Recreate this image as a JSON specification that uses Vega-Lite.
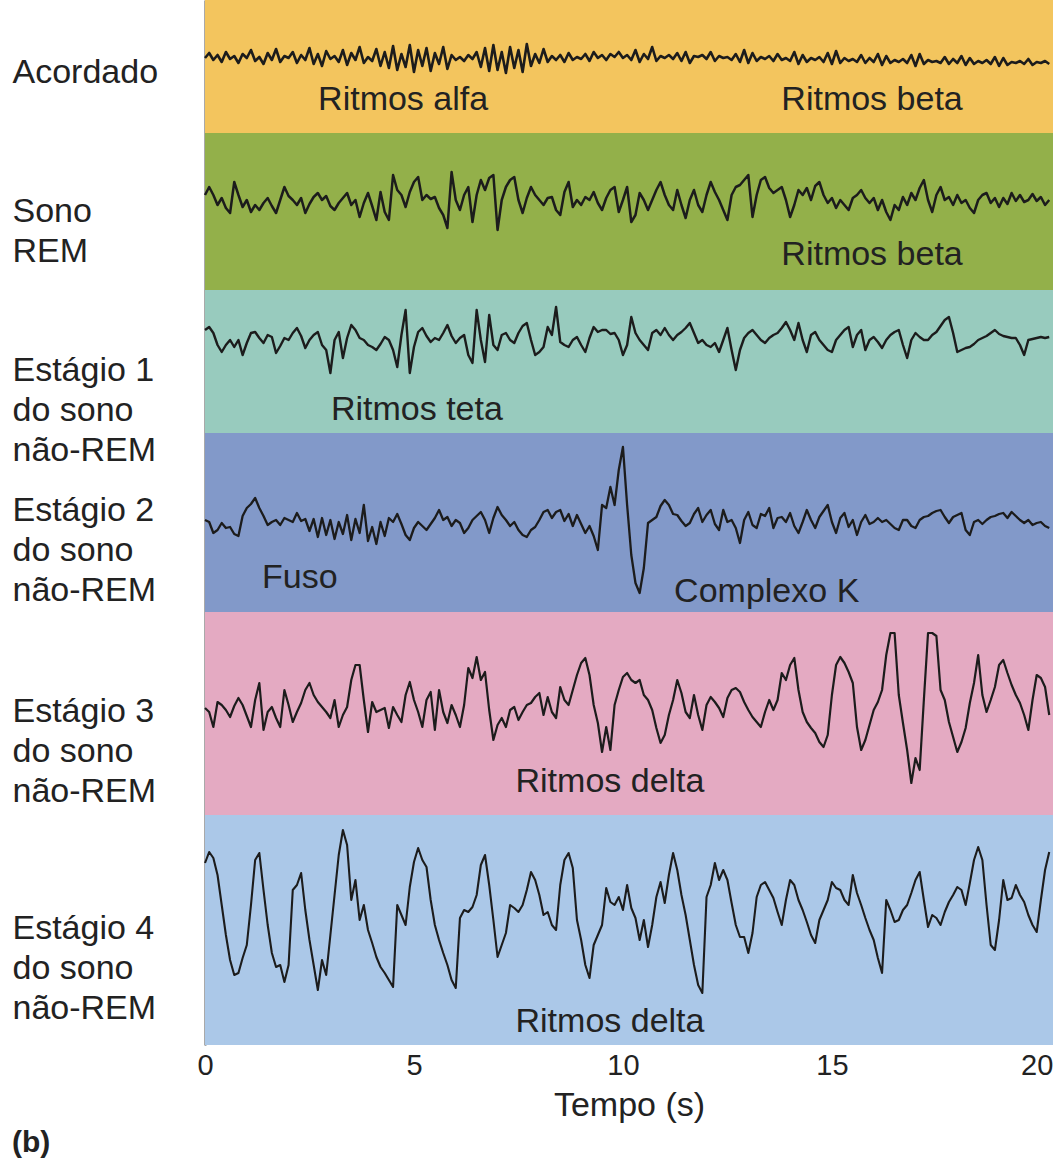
{
"$schema": "https://vega.github.io/schema/vega-lite/v6.json",
"width": 848, "height": 1045,
"autosize": {"type": "none"},
"padding": {"left": 205, "right": 0, "top": 0, "bottom": 131},
"background": "white",
"config": {"view": {"stroke": null}, "font": "Liberation Sans"},
"title": {"text": "(b)", "orient": "bottom", "anchor": "start", "frame": "bounds", "fontSize": 30, "fontWeight": "bold", "color": "#222", "offset": 6, "font": "Liberation Sans"},
"datasets": {
"bands": [
{"stage": "Acordado", "t": 0, "t2": 20.29, "v": 0, "v2": 133},
{"stage": "Sono REM", "t": 0, "t2": 20.29, "v": 133, "v2": 290},
{"stage": "Estágio 1", "t": 0, "t2": 20.29, "v": 290, "v2": 433},
{"stage": "Estágio 2", "t": 0, "t2": 20.29, "v": 433, "v2": 612},
{"stage": "Estágio 3", "t": 0, "t2": 20.29, "v": 612, "v2": 815},
{"stage": "Estágio 4", "t": 0, "t2": 20.29, "v": 815, "v2": 1045}
],
"notes": [
{"label": "Ritmos alfa", "t": 4.74, "v": 100},
{"label": "Ritmos beta", "t": 15.96, "v": 100},
{"label": "Ritmos beta", "t": 15.96, "v": 255},
{"label": "Ritmos teta", "t": 5.07, "v": 410},
{"label": "Fuso", "t": 2.27, "v": 578},
{"label": "Complexo K", "t": 13.44, "v": 592},
{"label": "Ritmos delta", "t": 9.69, "v": 782},
{"label": "Ritmos delta", "t": 9.69, "v": 1022}
],
"eeg": [
{"t":0,"a":58,"b":195,"c":330,"d":520,"e":708,"f":863},
{"t":0.1,"a":53,"b":187,"c":327,"d":522,"e":712,"f":852},
{"t":0.2,"a":60,"b":195,"c":333,"d":533,"e":727,"f":858},
{"t":0.3,"a":55,"b":205,"c":345,"d":530,"e":702,"f":875},
{"t":0.4,"a":62,"b":198,"c":352,"d":523,"e":705,"f":905},
{"t":0.5,"a":52,"b":208,"c":345,"d":528,"e":710,"f":935},
{"t":0.6,"a":59,"b":213,"c":340,"d":527,"e":717,"f":960},
{"t":0.7,"a":56,"b":182,"c":347,"d":534,"e":706,"f":975},
{"t":0.8,"a":63,"b":195,"c":340,"d":536,"e":698,"f":973},
{"t":0.9,"a":54,"b":207,"c":355,"d":516,"e":705,"f":958},
{"t":1,"a":58,"b":200,"c":343,"d":508,"e":716,"f":945},
{"t":1.1,"a":50,"b":212,"c":333,"d":504,"e":727,"f":905},
{"t":1.2,"a":61,"b":205,"c":332,"d":498,"e":700,"f":860},
{"t":1.3,"a":57,"b":210,"c":338,"d":508,"e":683,"f":853},
{"t":1.4,"a":64,"b":203,"c":343,"d":516,"e":730,"f":890},
{"t":1.5,"a":53,"b":198,"c":335,"d":525,"e":712,"f":925},
{"t":1.6,"a":60,"b":206,"c":337,"d":522,"e":707,"f":953},
{"t":1.7,"a":49,"b":213,"c":353,"d":520,"e":718,"f":967},
{"t":1.8,"a":62,"b":200,"c":346,"d":525,"e":727,"f":965},
{"t":1.9,"a":56,"b":187,"c":338,"d":518,"e":690,"f":982},
{"t":2,"a":58,"b":196,"c":340,"d":520,"e":705,"f":965},
{"t":2.1,"a":52,"b":200,"c":333,"d":522,"e":722,"f":890},
{"t":2.2,"a":63,"b":205,"c":328,"d":513,"e":712,"f":885},
{"t":2.3,"a":55,"b":198,"c":336,"d":521,"e":703,"f":873},
{"t":2.4,"a":60,"b":213,"c":348,"d":519,"e":690,"f":910},
{"t":2.5,"a":48,"b":204,"c":340,"d":531,"e":683,"f":940},
{"t":2.6,"a":64,"b":197,"c":335,"d":519,"e":695,"f":965},
{"t":2.7,"a":54,"b":193,"c":332,"d":537,"e":702,"f":990},
{"t":2.8,"a":66,"b":200,"c":345,"d":518,"e":707,"f":960},
{"t":2.9,"a":51,"b":196,"c":350,"d":535,"e":712,"f":975},
{"t":3,"a":59,"b":206,"c":373,"d":520,"e":718,"f":935},
{"t":3.1,"a":56,"b":210,"c":340,"d":539,"e":700,"f":895},
{"t":3.2,"a":62,"b":203,"c":332,"d":522,"e":727,"f":855},
{"t":3.3,"a":50,"b":198,"c":358,"d":534,"e":715,"f":830},
{"t":3.4,"a":65,"b":193,"c":338,"d":515,"e":707,"f":845},
{"t":3.5,"a":53,"b":205,"c":325,"d":540,"e":680,"f":900},
{"t":3.6,"a":60,"b":200,"c":330,"d":519,"e":665,"f":880},
{"t":3.7,"a":47,"b":217,"c":338,"d":533,"e":665,"f":920},
{"t":3.8,"a":63,"b":203,"c":340,"d":505,"e":700,"f":905},
{"t":3.9,"a":57,"b":193,"c":345,"d":541,"e":732,"f":930},
{"t":4,"a":61,"b":206,"c":347,"d":527,"e":702,"f":943},
{"t":4.1,"a":49,"b":220,"c":350,"d":544,"e":712,"f":957},
{"t":4.2,"a":66,"b":192,"c":344,"d":522,"e":710,"f":967},
{"t":4.3,"a":52,"b":212,"c":337,"d":536,"e":708,"f":973},
{"t":4.4,"a":68,"b":220,"c":340,"d":518,"e":728,"f":980},
{"t":4.5,"a":46,"b":175,"c":350,"d":522,"e":707,"f":987},
{"t":4.6,"a":70,"b":190,"c":367,"d":514,"e":715,"f":905},
{"t":4.7,"a":54,"b":195,"c":335,"d":524,"e":722,"f":915},
{"t":4.8,"a":67,"b":207,"c":310,"d":535,"e":695,"f":925},
{"t":4.9,"a":45,"b":192,"c":373,"d":540,"e":682,"f":887},
{"t":5,"a":72,"b":182,"c":347,"d":528,"e":700,"f":862},
{"t":5.1,"a":50,"b":177,"c":332,"d":522,"e":712,"f":848},
{"t":5.2,"a":66,"b":200,"c":328,"d":526,"e":727,"f":860},
{"t":5.3,"a":48,"b":195,"c":336,"d":530,"e":700,"f":867},
{"t":5.4,"a":71,"b":199,"c":342,"d":524,"e":692,"f":900},
{"t":5.5,"a":53,"b":197,"c":338,"d":518,"e":730,"f":925},
{"t":5.6,"a":64,"b":208,"c":340,"d":510,"e":690,"f":940},
{"t":5.7,"a":47,"b":215,"c":333,"d":520,"e":712,"f":953},
{"t":5.8,"a":69,"b":228,"c":325,"d":517,"e":723,"f":965},
{"t":5.9,"a":55,"b":172,"c":336,"d":526,"e":705,"f":980},
{"t":6,"a":60,"b":200,"c":343,"d":520,"e":715,"f":988},
{"t":6.1,"a":57,"b":210,"c":338,"d":523,"e":727,"f":918},
{"t":6.2,"a":61,"b":195,"c":335,"d":533,"e":705,"f":910},
{"t":6.3,"a":55,"b":187,"c":355,"d":528,"e":668,"f":912},
{"t":6.4,"a":59,"b":222,"c":363,"d":520,"e":678,"f":907},
{"t":6.5,"a":52,"b":195,"c":310,"d":516,"e":657,"f":895},
{"t":6.6,"a":67,"b":180,"c":340,"d":512,"e":680,"f":865},
{"t":6.7,"a":48,"b":190,"c":362,"d":520,"e":672,"f":855},
{"t":6.8,"a":71,"b":178,"c":315,"d":533,"e":710,"f":885},
{"t":6.9,"a":45,"b":175,"c":345,"d":518,"e":740,"f":920},
{"t":7,"a":70,"b":230,"c":350,"d":507,"e":725,"f":957},
{"t":7.1,"a":52,"b":200,"c":335,"d":515,"e":718,"f":945},
{"t":7.2,"a":73,"b":187,"c":333,"d":520,"e":727,"f":933},
{"t":7.3,"a":47,"b":180,"c":340,"d":526,"e":710,"f":905},
{"t":7.4,"a":68,"b":177,"c":343,"d":522,"e":707,"f":908},
{"t":7.5,"a":50,"b":200,"c":333,"d":530,"e":720,"f":912},
{"t":7.6,"a":72,"b":213,"c":326,"d":535,"e":712,"f":905},
{"t":7.7,"a":44,"b":198,"c":323,"d":537,"e":705,"f":890},
{"t":7.8,"a":66,"b":187,"c":340,"d":530,"e":703,"f":872},
{"t":7.9,"a":54,"b":195,"c":355,"d":527,"e":697,"f":880},
{"t":8,"a":63,"b":200,"c":352,"d":520,"e":693,"f":895},
{"t":8.1,"a":49,"b":205,"c":347,"d":512,"e":715,"f":915},
{"t":8.2,"a":62,"b":198,"c":327,"d":510,"e":697,"f":912},
{"t":8.3,"a":56,"b":197,"c":335,"d":518,"e":712,"f":925},
{"t":8.4,"a":60,"b":210,"c":307,"d":512,"e":718,"f":930},
{"t":8.5,"a":55,"b":215,"c":342,"d":510,"e":687,"f":885},
{"t":8.6,"a":62,"b":192,"c":345,"d":521,"e":700,"f":860},
{"t":8.7,"a":53,"b":182,"c":347,"d":514,"e":705,"f":853},
{"t":8.8,"a":60,"b":207,"c":340,"d":526,"e":690,"f":868},
{"t":8.9,"a":57,"b":200,"c":337,"d":515,"e":675,"f":920},
{"t":9,"a":59,"b":205,"c":345,"d":524,"e":663,"f":940},
{"t":9.1,"a":54,"b":197,"c":352,"d":533,"e":658,"f":965},
{"t":9.2,"a":61,"b":200,"c":338,"d":526,"e":675,"f":978},
{"t":9.3,"a":52,"b":192,"c":327,"d":536,"e":705,"f":945},
{"t":9.4,"a":58,"b":203,"c":332,"d":550,"e":723,"f":935},
{"t":9.5,"a":55,"b":210,"c":330,"d":505,"e":752,"f":925},
{"t":9.6,"a":60,"b":198,"c":330,"d":508,"e":727,"f":888},
{"t":9.7,"a":54,"b":190,"c":334,"d":487,"e":750,"f":902},
{"t":9.8,"a":57,"b":187,"c":333,"d":505,"e":705,"f":905},
{"t":9.9,"a":52,"b":212,"c":340,"d":470,"e":690,"f":897},
{"t":10,"a":58,"b":200,"c":355,"d":447,"e":677,"f":910},
{"t":10.1,"a":55,"b":187,"c":345,"d":505,"e":673,"f":885},
{"t":10.2,"a":60,"b":222,"c":317,"d":555,"e":680,"f":908},
{"t":10.3,"a":50,"b":215,"c":333,"d":583,"e":683,"f":918},
{"t":10.4,"a":62,"b":193,"c":340,"d":593,"e":680,"f":940},
{"t":10.5,"a":54,"b":200,"c":345,"d":568,"e":695,"f":920},
{"t":10.6,"a":59,"b":210,"c":350,"d":523,"e":700,"f":947},
{"t":10.7,"a":47,"b":200,"c":333,"d":520,"e":710,"f":925},
{"t":10.8,"a":61,"b":190,"c":330,"d":517,"e":728,"f":897},
{"t":10.9,"a":56,"b":182,"c":335,"d":506,"e":743,"f":882},
{"t":11,"a":58,"b":195,"c":328,"d":500,"e":735,"f":903},
{"t":11.1,"a":55,"b":205,"c":335,"d":505,"e":715,"f":875},
{"t":11.2,"a":59,"b":210,"c":340,"d":514,"e":700,"f":853},
{"t":11.3,"a":53,"b":190,"c":335,"d":515,"e":680,"f":870},
{"t":11.4,"a":61,"b":205,"c":332,"d":521,"e":693,"f":895},
{"t":11.5,"a":52,"b":218,"c":328,"d":526,"e":712,"f":915},
{"t":11.6,"a":63,"b":200,"c":323,"d":523,"e":718,"f":940},
{"t":11.7,"a":56,"b":190,"c":333,"d":514,"e":695,"f":965},
{"t":11.8,"a":57,"b":205,"c":343,"d":508,"e":715,"f":985},
{"t":11.9,"a":55,"b":212,"c":340,"d":522,"e":730,"f":993},
{"t":12,"a":59,"b":195,"c":345,"d":515,"e":705,"f":897},
{"t":12.1,"a":52,"b":182,"c":347,"d":510,"e":697,"f":885},
{"t":12.2,"a":61,"b":192,"c":343,"d":524,"e":702,"f":863},
{"t":12.3,"a":56,"b":200,"c":352,"d":530,"e":708,"f":880},
{"t":12.4,"a":58,"b":210,"c":340,"d":510,"e":717,"f":870},
{"t":12.5,"a":57,"b":220,"c":328,"d":522,"e":698,"f":880},
{"t":12.6,"a":60,"b":195,"c":350,"d":520,"e":690,"f":903},
{"t":12.7,"a":54,"b":187,"c":370,"d":528,"e":688,"f":925},
{"t":12.8,"a":62,"b":185,"c":350,"d":543,"e":692,"f":937},
{"t":12.9,"a":50,"b":180,"c":338,"d":520,"e":702,"f":937},
{"t":13,"a":63,"b":175,"c":333,"d":512,"e":710,"f":953},
{"t":13.1,"a":53,"b":217,"c":330,"d":525,"e":717,"f":933},
{"t":13.2,"a":61,"b":195,"c":335,"d":528,"e":722,"f":897},
{"t":13.3,"a":57,"b":180,"c":340,"d":514,"e":727,"f":885},
{"t":13.4,"a":59,"b":177,"c":343,"d":516,"e":712,"f":882},
{"t":13.5,"a":56,"b":188,"c":338,"d":508,"e":700,"f":890},
{"t":13.6,"a":61,"b":193,"c":335,"d":528,"e":710,"f":898},
{"t":13.7,"a":54,"b":190,"c":333,"d":518,"e":700,"f":912},
{"t":13.8,"a":60,"b":187,"c":328,"d":517,"e":673,"f":925},
{"t":13.9,"a":58,"b":200,"c":322,"d":522,"e":680,"f":900},
{"t":14,"a":61,"b":217,"c":330,"d":513,"e":665,"f":880},
{"t":14.1,"a":52,"b":205,"c":340,"d":526,"e":658,"f":885},
{"t":14.2,"a":64,"b":190,"c":323,"d":533,"e":690,"f":900},
{"t":14.3,"a":55,"b":195,"c":340,"d":522,"e":712,"f":910},
{"t":14.4,"a":62,"b":188,"c":352,"d":510,"e":722,"f":922},
{"t":14.5,"a":58,"b":200,"c":335,"d":520,"e":728,"f":935},
{"t":14.6,"a":60,"b":186,"c":332,"d":528,"e":733,"f":943},
{"t":14.7,"a":57,"b":182,"c":340,"d":517,"e":742,"f":920},
{"t":14.8,"a":62,"b":195,"c":345,"d":511,"e":747,"f":910},
{"t":14.9,"a":53,"b":203,"c":350,"d":505,"e":735,"f":900},
{"t":15,"a":64,"b":198,"c":352,"d":522,"e":695,"f":882},
{"t":15.1,"a":51,"b":208,"c":340,"d":533,"e":665,"f":888},
{"t":15.2,"a":63,"b":200,"c":335,"d":518,"e":657,"f":890},
{"t":15.3,"a":58,"b":205,"c":330,"d":513,"e":663,"f":900},
{"t":15.4,"a":61,"b":210,"c":327,"d":527,"e":672,"f":905},
{"t":15.5,"a":59,"b":198,"c":347,"d":520,"e":683,"f":875},
{"t":15.6,"a":62,"b":195,"c":335,"d":535,"e":727,"f":893},
{"t":15.7,"a":55,"b":190,"c":330,"d":522,"e":750,"f":905},
{"t":15.8,"a":63,"b":198,"c":350,"d":515,"e":740,"f":918},
{"t":15.9,"a":58,"b":203,"c":340,"d":524,"e":725,"f":930},
{"t":16,"a":62,"b":198,"c":337,"d":522,"e":710,"f":940},
{"t":16.1,"a":54,"b":210,"c":342,"d":518,"e":702,"f":958},
{"t":16.2,"a":65,"b":200,"c":348,"d":522,"e":690,"f":973},
{"t":16.3,"a":56,"b":212,"c":340,"d":520,"e":655,"f":900},
{"t":16.4,"a":63,"b":220,"c":335,"d":524,"e":633,"f":910},
{"t":16.5,"a":60,"b":205,"c":332,"d":528,"e":633,"f":922},
{"t":16.6,"a":62,"b":210,"c":330,"d":530,"e":695,"f":920},
{"t":16.7,"a":59,"b":197,"c":345,"d":520,"e":723,"f":910},
{"t":16.8,"a":63,"b":205,"c":358,"d":520,"e":750,"f":905},
{"t":16.9,"a":55,"b":193,"c":340,"d":526,"e":783,"f":893},
{"t":17,"a":66,"b":200,"c":333,"d":528,"e":758,"f":880},
{"t":17.1,"a":54,"b":188,"c":337,"d":520,"e":770,"f":872},
{"t":17.2,"a":64,"b":180,"c":340,"d":517,"e":700,"f":900},
{"t":17.3,"a":60,"b":200,"c":340,"d":516,"e":633,"f":927},
{"t":17.4,"a":62,"b":212,"c":335,"d":513,"e":633,"f":915},
{"t":17.5,"a":61,"b":195,"c":332,"d":511,"e":636,"f":918},
{"t":17.6,"a":63,"b":187,"c":326,"d":510,"e":690,"f":925},
{"t":17.7,"a":57,"b":200,"c":320,"d":517,"e":700,"f":912},
{"t":17.8,"a":64,"b":197,"c":317,"d":523,"e":722,"f":902},
{"t":17.9,"a":59,"b":205,"c":333,"d":517,"e":737,"f":895},
{"t":18,"a":63,"b":195,"c":352,"d":515,"e":752,"f":887},
{"t":18.1,"a":56,"b":203,"c":350,"d":513,"e":742,"f":890},
{"t":18.2,"a":65,"b":200,"c":348,"d":530,"e":728,"f":905},
{"t":18.3,"a":58,"b":208,"c":347,"d":535,"e":703,"f":883},
{"t":18.4,"a":64,"b":213,"c":344,"d":522,"e":683,"f":860},
{"t":18.5,"a":61,"b":200,"c":340,"d":520,"e":655,"f":847},
{"t":18.6,"a":63,"b":195,"c":338,"d":524,"e":695,"f":860},
{"t":18.7,"a":60,"b":193,"c":336,"d":520,"e":712,"f":905},
{"t":18.8,"a":64,"b":203,"c":333,"d":517,"e":700,"f":945},
{"t":18.9,"a":57,"b":198,"c":330,"d":516,"e":687,"f":950},
{"t":19,"a":66,"b":207,"c":334,"d":514,"e":665,"f":920},
{"t":19.1,"a":58,"b":198,"c":336,"d":513,"e":660,"f":880},
{"t":19.2,"a":65,"b":204,"c":337,"d":518,"e":673,"f":900},
{"t":19.3,"a":62,"b":193,"c":338,"d":512,"e":685,"f":898},
{"t":19.4,"a":63,"b":201,"c":338,"d":516,"e":695,"f":885},
{"t":19.5,"a":61,"b":195,"c":345,"d":520,"e":703,"f":895},
{"t":19.6,"a":64,"b":202,"c":355,"d":523,"e":715,"f":902},
{"t":19.7,"a":59,"b":200,"c":340,"d":520,"e":730,"f":915},
{"t":19.8,"a":65,"b":194,"c":339,"d":525,"e":700,"f":925},
{"t":19.9,"a":62,"b":201,"c":338,"d":523,"e":675,"f":932},
{"t":20,"a":63,"b":197,"c":337,"d":522,"e":678,"f":900},
{"t":20.1,"a":61,"b":205,"c":338,"d":526,"e":687,"f":870},
{"t":20.2,"a":64,"b":200,"c":337,"d":528,"e":715,"f":852}
]
},
"encoding": {
"x": {"field": "t", "type": "quantitative", "scale": {"domain": [0, 20.29], "nice": false, "zero": false},
 "axis": {"values": [0, 5, 10, 15, 20], "title": "Tempo (s)", "grid": false, "ticks": false, "domain": false, "labelFontSize": 29, "labelColor": "#222",
  "labelAlign": {"condition": {"test": "datum.value == 20", "value": "right"}, "value": "center"},
  "labelOffset": {"condition": {"test": "datum.value == 20", "value": 12}, "value": 0},
  "labelPadding": 6, "labelFlush": false, "labelBound": false, "labelOverlap": false, "labelFont": "Liberation Sans", "titleFont": "Liberation Sans", "titleFontSize": 34, "titleFontWeight": "normal", "titleColor": "#222", "titlePadding": 8}},
"y": {"field": "v", "type": "quantitative", "scale": {"domain": [0, 1045], "reverse": true, "nice": false, "zero": false},
 "axis": {"values": [72, 211, 370, 510, 711, 928], "labelExpr": "datum.value==72?'Acordado':datum.value==211?['Sono','REM']:datum.value==370?['Estágio 1','do sono','não-REM']:datum.value==510?['Estágio 2','do sono','não-REM']:datum.value==711?['Estágio 3','do sono','não-REM']:['Estágio 4','do sono','não-REM']", "title": null, "grid": false, "ticks": false, "domain": true, "domainColor": "#555", "domainWidth": 2, "labelAlign": "left", "labelBaseline": "middle", "labelPadding": 193, "labelFontSize": 34, "labelFont": "Liberation Sans", "labelColor": "#222", "labelLineHeight": 40, "labelOverlap": false, "labelBound": false, "labelFlush": false}}
},
"layer": [
{"data": {"name": "bands"}, "mark": {"type": "rect"},
 "encoding": {"x2": {"field": "t2"}, "y2": {"field": "v2"},
  "color": {"field": "stage", "type": "nominal", "legend": null,
   "scale": {"domain": ["Acordado", "Sono REM", "Estágio 1", "Estágio 2", "Estágio 3", "Estágio 4"], "range": ["#F3C55E", "#93B04A", "#98CBBE", "#8299C9", "#E4AAC2", "#ABC8E8"]}}}},
{"data": {"name": "eeg"}, "transform": [{"fold": ["a", "b", "c", "d", "e", "f"], "as": ["canal", "v"]}],
 "mark": {"type": "line", "color": "#1c1c1c", "strokeJoin": "round"},
 "encoding": {"detail": {"field": "canal", "type": "nominal"},
  "strokeWidth": {"field": "canal", "type": "nominal", "legend": null, "scale": {"domain": ["a", "b", "c", "d", "e", "f"], "range": [2.6, 2.1, 2, 2.2, 2, 2]}}}},
{"data": {"name": "notes"}, "mark": {"type": "text", "fontSize": 34, "color": "#222", "baseline": "middle", "align": "center", "font": "Liberation Sans"},
 "encoding": {"text": {"field": "label"}}}
]
}
